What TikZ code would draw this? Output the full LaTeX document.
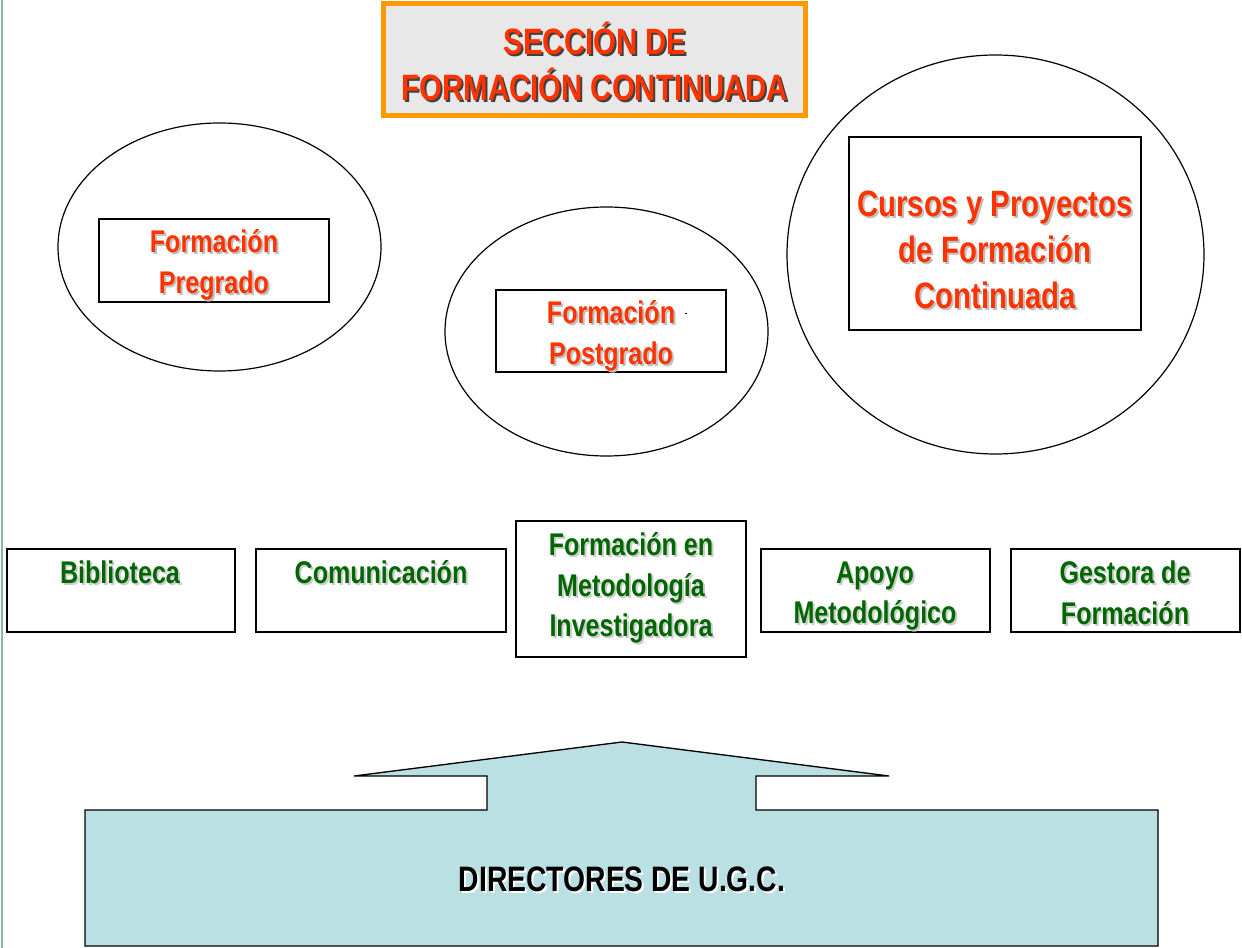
\documentclass[tikz,border=0pt]{standalone}
\usepackage{fontspec}
\setmainfont{Liberation Sans}[FakeStretch=0.8]
\usetikzlibrary{shapes.geometric}
\definecolor{titred}{RGB}{255,51,0}
\definecolor{titorange}{RGB}{255,153,0}
\definecolor{titfill}{RGB}{232,232,232}
\definecolor{grn}{RGB}{0,102,0}
\definecolor{arrowfill}{RGB}{187,224,227}
\definecolor{edgeline}{RGB}{143,175,181}
\newcommand\shd[2]{\leavevmode\rlap{\hspace{1.5pt}\raisebox{-1.5pt}{\color{#1}#2}}#2}
\tikzset{
  frame/.style={draw=black, line width=1pt, rectangle, inner sep=0pt},
  oval/.style={draw=black, line width=0.9pt, ellipse, inner sep=0pt},
  redtxt/.style={text=titred, align=center, font=\bfseries\fontsize{23.5}{30.75}\selectfont},
  bigred/.style={text=titred, align=center, font=\bfseries\fontsize{27.5}{34.5}\selectfont},
  grntxt/.style={text=grn, align=center, font=\bfseries\fontsize{23.5}{30.5}\selectfont},
}
\begin{document}
\begin{tikzpicture}[x=0.75pt, y=-0.75pt]
\useasboundingbox (0,0) rectangle (1242,948);
% left edge line
\draw[edgeline, line width=1.2pt] (2,0) -- (2,948);
% title
\node[draw=titorange, fill=titfill, line width=4pt, rectangle, minimum width=422*0.75pt, minimum height=112*0.75pt, inner sep=0pt] (title) at (594.5,59.5) {};
\node[bigred] (titletxt) at (595,62) {\shd{black!75}{SECCIÓN DE}\\\shd{black!75}{FORMACIÓN CONTINUADA}};
% ellipses
\node[oval, minimum width=323*0.75pt, minimum height=248*0.75pt] (e1) at (219.5,247) {};
\node[oval, minimum width=323*0.75pt, minimum height=249*0.75pt] (e2) at (606.5,331.5) {};
\node[oval, minimum width=417*0.75pt, minimum height=399*0.75pt] (e3) at (995.5,254.5) {};
% boxes in ellipses
\node[frame, minimum width=230*0.75pt, minimum height=83*0.75pt] (pre) at (214,260.5) {};
\node[redtxt] (pretxt) at (214,266) {\shd{black!25}{Formación}\\\shd{black!25}{Pregrado}};
\node[frame, minimum width=230*0.75pt, minimum height=82*0.75pt] (post) at (611,331) {};
\node[redtxt] (posttxt) at (611,336.5) {\shd{black!25}{Formación}\\\shd{black!25}{Postgrado}};
\fill[black] (685,313) rectangle (687,314.5);
\node[frame, minimum width=292*0.75pt, minimum height=193*0.75pt] (cur) at (995,233.5) {};
\node[bigred] (curtxt) at (995,251) {\shd{black!25}{Cursos y Proyectos}\\\shd{black!25}{de Formación}\\\shd{black!25}{Continuada}};
% green row
\node[frame, minimum width=228*0.75pt, minimum height=83*0.75pt] (bib) at (121,590.5) {};
\node[grntxt] (bibtxt) at (120,573) {\shd{black!20}{Biblioteca}};
\node[frame, minimum width=250*0.75pt, minimum height=83*0.75pt] (com) at (381,590.5) {};
\node[grntxt] (comtxt) at (381,573) {\shd{black!20}{Comunicación}};
\node[frame, minimum width=230*0.75pt, minimum height=136*0.75pt] (fmi) at (631,589) {};
\node[grntxt] (fmitxt) at (631,589) {\shd{black!20}{Formación en}\\\shd{black!20}{Metodología}\\\shd{black!20}{Investigadora}};
\node[frame, minimum width=229*0.75pt, minimum height=83*0.75pt] (apo) at (875.5,590.5) {};
\node[grntxt] (apotxt) at (875,597) {\shd{black!20}{Apoyo}\\\shd{black!20}{Metodológico}};
\node[frame, minimum width=229*0.75pt, minimum height=83*0.75pt] (ges) at (1125.5,590.5) {};
\node[grntxt] (gestxt) at (1125,594) {\shd{black!20}{Gestora de}\\\shd{black!20}{Formación}};
% big arrow
\draw[fill=arrowfill, draw=black, line width=1pt, line join=miter]
  (622,742) -- (889,776) -- (756,776) -- (756,810) -- (1158,810) -- (1158,946)
  -- (85,946) -- (85,810) -- (487,810) -- (487,776) -- (354,776) -- cycle;
\node[text=black, font=\bfseries\fontsize{26.5}{30}\selectfont] (dir) at (622,880) {\shd{white}{DIRECTORES DE U.G.C.}};
\end{tikzpicture}
\end{document}
